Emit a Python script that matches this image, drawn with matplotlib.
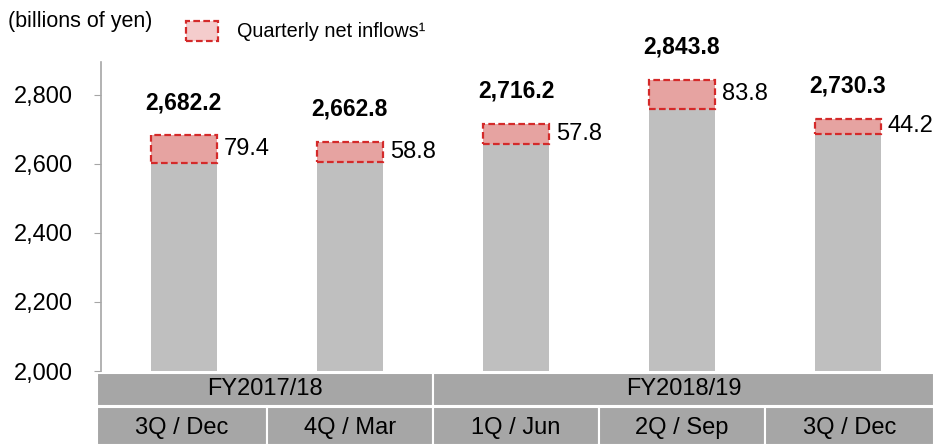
import matplotlib
matplotlib.use("Agg")
import matplotlib.pyplot as plt
from matplotlib.patches import Rectangle, Patch
from matplotlib.ticker import FuncFormatter

plt.rcParams['font.family'] = ['Liberation Sans', 'DejaVu Sans']

quarters = ['3Q / Dec', '4Q / Mar', '1Q / Jun', '2Q / Sep', '3Q / Dec']
years = ['FY2017/18', 'FY2018/19']
year_span = [(0, 1), (2, 4)]
totals = [2682.2, 2662.8, 2716.2, 2843.8, 2730.3]
inflows = [79.4, 58.8, 57.8, 83.8, 44.2]
base = [t - f for t, f in zip(totals, inflows)]

grey = '#BFBFBF'
pink = '#E6A3A1'
red = '#D42A2A'
cell = '#A6A6A6'

fig = plt.figure(figsize=(9.33, 4.44), dpi=100)
ax = fig.add_axes([0.108, 0.1644, 0.89, 0.696])

x = list(range(len(quarters)))
w = 0.4
ax.bar(x, base, width=w, color=grey, bottom=0)
ax.bar(x, inflows, width=w, bottom=base, color=pink, edgecolor=red,
       linestyle=(0, (3, 1.5)), linewidth=1.6)

for i in x:
    ax.text(i, totals[i] + 62, f'{totals[i]:,.1f}', ha='center', va='bottom',
            fontsize=16.5, fontweight='bold')
    ax.text(i + w / 2 + 0.04, base[i] + inflows[i] / 2, f'{inflows[i]:.1f}',
            ha='left', va='center', fontsize=17)

ax.set_xlim(-0.5, 4.5)
ax.set_ylim(2000, 2895)
ax.set_yticks([2000, 2200, 2400, 2600, 2800])
ax.yaxis.set_major_formatter(FuncFormatter(lambda v, p: f'{v:,.0f}'))
ax.tick_params(axis='y', labelsize=17, length=5, color='#A6A6A6', pad=15)
ax.set_xticks([])
for s in ['top', 'right', 'bottom']:
    ax.spines[s].set_visible(False)
ax.spines['left'].set_color('#A6A6A6')
ax.spines['left'].set_linewidth(1.2)

# category table under the axis
tr = ax.get_xaxis_transform()
r1_top, r1_bot = -0.005, -0.113
r2_top, r2_bot = -0.118, -0.24
for (a, b), label in zip(year_span, years):
    left = a - 0.52 if a == 0 else a - 0.5
    right = b + 0.52 if b == 4 else b + 0.5
    ax.add_patch(Rectangle((left, r1_bot), right - left, r1_top - r1_bot,
                           transform=tr, facecolor=cell, edgecolor='white',
                           linewidth=1.5, clip_on=False))
    ax.text((left + right) / 2, (r1_top + r1_bot) / 2, label, transform=tr,
            ha='center', va='center', fontsize=17)
for i, q in enumerate(quarters):
    left = i - 0.52 if i == 0 else i - 0.5
    right = i + 0.52 if i == 4 else i + 0.5
    ax.add_patch(Rectangle((left, r2_bot), right - left, r2_top - r2_bot,
                           transform=tr, facecolor=cell, edgecolor='white',
                           linewidth=1.5, clip_on=False))
    ax.text((left + right) / 2, (r2_top + r2_bot) / 2 - 0.005, q, transform=tr,
            ha='center', va='center', fontsize=17)

fig.text(8 / 933, 1 - 21 / 444, '(billions of yen)', fontsize=15.5, va='center')
handle = Patch(facecolor='#F4CCCC', edgecolor=red, linestyle=(0, (3, 1.5)),
               linewidth=1.6, label='Quarterly net inflows¹')
fig.legend(handles=[handle], loc='center left',
           bbox_to_anchor=(178 / 933, 1 - 31 / 444), frameon=False,
           fontsize=14.3, handlelength=1.6, handleheight=1.2,
           handletextpad=0.95, borderaxespad=0)

fig.savefig('out.png', dpi=100)
